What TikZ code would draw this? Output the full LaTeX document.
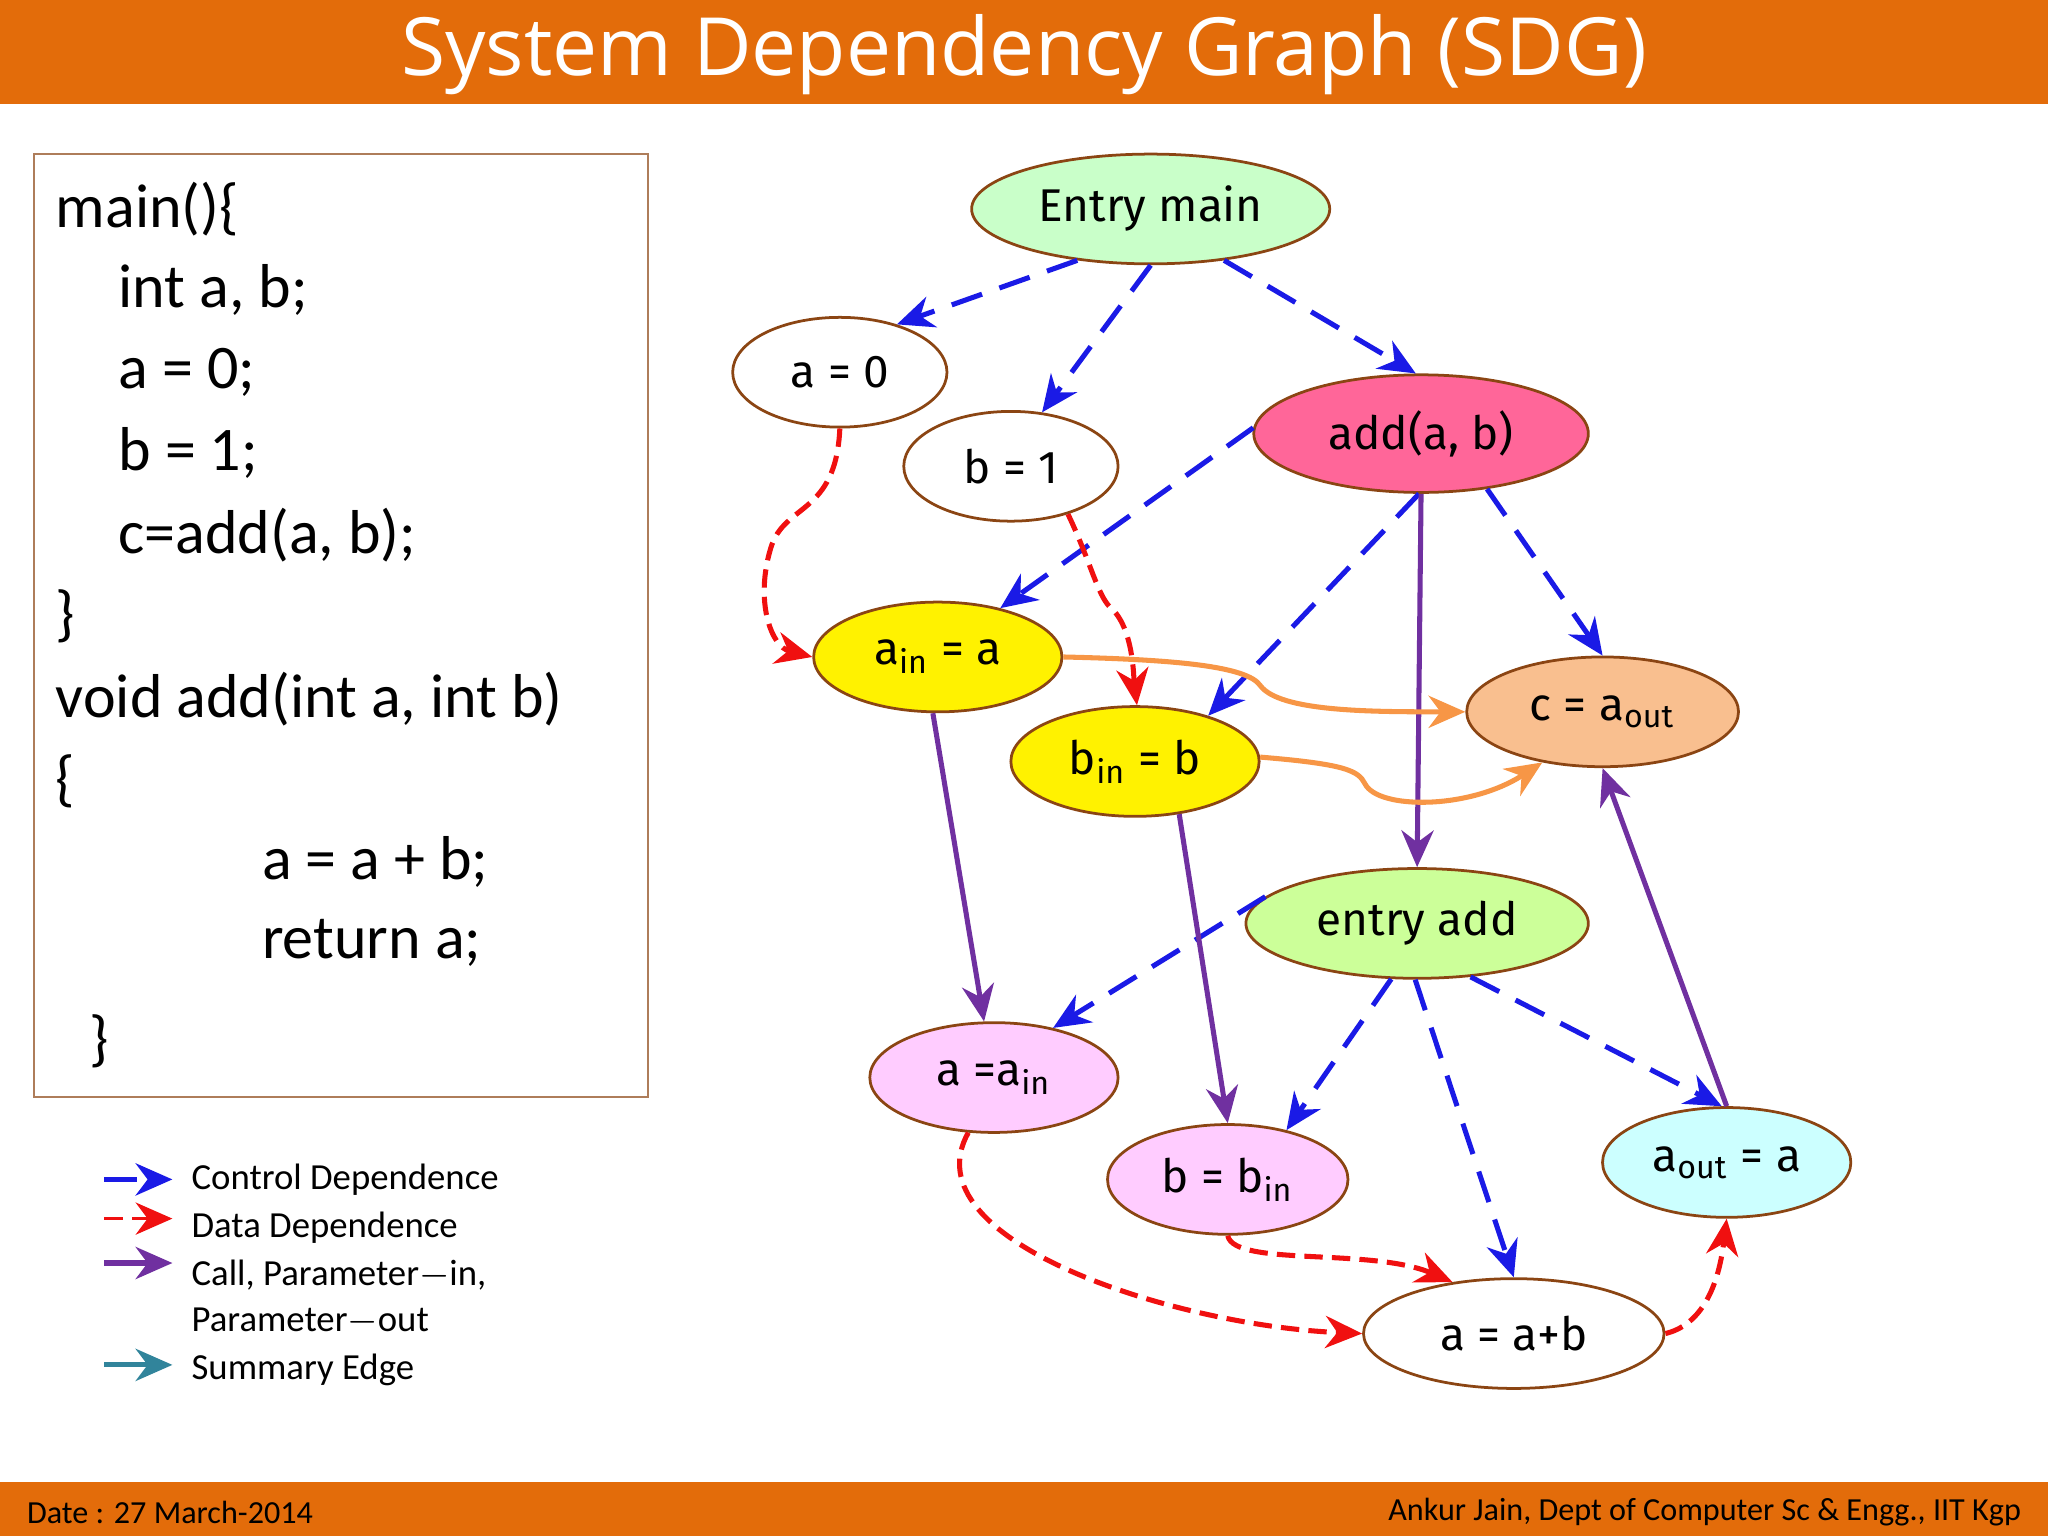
\documentclass[tikz,border=0pt]{standalone}
\usepackage{fontspec}
\setmainfont{Carlito}
\newfontfamily\titlefont{Open Sans}
\newfontfamily\nodefont{Fira Sans}
\usetikzlibrary{shapes.geometric,arrows.meta}
\definecolor{hdr}{HTML}{E36C0A}
\definecolor{brd}{HTML}{8B4513}
\definecolor{ctrl}{HTML}{1A1AE6}
\definecolor{dat}{HTML}{F01010}
\definecolor{callc}{HTML}{7030A0}
\definecolor{orng}{HTML}{F79646}
\definecolor{summ}{HTML}{31849B}
\tikzset{
  el/.style={ellipse,draw=brd,line width=0.6pt,inner sep=0pt,font=\nodefont\fontsize{10}{12}\selectfont},
  ctl/.style={draw=ctrl,line width=1.1pt,dash pattern=on 7pt off 4pt,-{Stealth[length=8pt,width=7pt]}},
  dd/.style={draw=dat,line width=1.1pt,dash pattern=on 4pt off 2pt,-{Stealth[length=8pt,width=7pt]}},
  cl/.style={draw=callc,line width=1.1pt,-{Stealth[length=8pt,width=7pt]}},
  og/.style={draw=orng,line width=1.1pt,-{Stealth[length=8pt,width=7pt]}},
  sm/.style={draw=summ,line width=1.1pt,-{Stealth[length=8pt,width=7pt]}},
  code/.style={anchor=west,inner sep=0pt,font=\fontsize{13.5}{16}\selectfont},
  leg/.style={anchor=west,inner sep=0pt,font=\fontsize{8}{10}\selectfont}
}
\begin{document}
\begin{tikzpicture}[x=0.01cm,y=-0.01cm]
\useasboundingbox (0,0) rectangle (1568,1176);
\fill[hdr] (0,0) rectangle (1568,80);
\node[text=white,font=\titlefont\fontsize{17.5}{20}\selectfont] (title) at (784,42) {System Dependency Graph (SDG)};
\fill[hdr] (0,1135) rectangle (1568,1176);
\node[anchor=west,inner sep=0pt,font=\fontsize{7}{8}\selectfont] (date) at (20,1158) {Date : 27 March-2014};
\node[anchor=east,inner sep=0pt,font=\fontsize{7}{8}\selectfont] (auth) at (1548,1158) {Ankur Jain, Dept of Computer Sc \& Engg., IIT Kgp};
% code box
\draw[brd!70,line width=0.5pt] (26,118) rectangle (496,840);
\node[code] (c1) at (42,160) {main()\{};
\node[code] (c2) at (90,222) {int a, b;};
\node[code] (c3) at (90,285) {a = 0;};
\node[code] (c4) at (90,347) {b = 1;};
\node[code] (c5) at (90,410) {c=add(a, b);};
\node[code] (c6) at (42,472) {\}};
\node[code] (c7) at (42,535) {void add(int a, int b)};
\node[code] (c8) at (42,598) {\{};
\node[code] (c9) at (200,660) {a = a + b;};
\node[code] (c10) at (200,722) {return a;};
\node[code] (c11) at (68,797) {\}};
% legend
\coordinate (l1a) at (80,903); \coordinate (l1b) at (132,903);
\coordinate (l2a) at (80,933); \coordinate (l2b) at (132,933);
\coordinate (l3a) at (80,967); \coordinate (l3b) at (132,967);
\coordinate (l4a) at (80,1045); \coordinate (l4b) at (132,1045);
\draw[ctl] (l1a) -- (l1b);
\draw[dd,line width=0.8pt] (l2a) -- (l2b);
\draw[cl] (l3a) -- (l3b);
\draw[sm] (l4a) -- (l4b);
\node[leg] (t1) at (146,903) {Control Dependence};
\node[leg] (t2) at (146,940) {Data Dependence};
\node[leg] (t3) at (146,976) {Call, Parameter{\(-\)}in,};
\node[leg] (t3b) at (146,1012) {Parameter{\(-\)}out};
\node[leg] (t4) at (146,1049) {Summary Edge};
% nodes
\node[el,fill={rgb,255:red,201;green,255;blue,201},minimum width=274\pgflinewidth*0+2.74cm,minimum height=0.84cm] (em) at (881,160) {Entry main};
\node[el,fill=white,minimum width=1.64cm,minimum height=0.84cm] (a0) at (643,285) {a = 0};
\node[el,fill=white,minimum width=1.64cm,minimum height=0.84cm] (b1) at (774,357) {b = 1};
\node[el,fill={rgb,255:red,255;green,102;blue,153},minimum width=2.56cm,minimum height=0.9cm] (add) at (1088,332) {add(a, b)};
\node[el,fill=yellow,minimum width=1.9cm,minimum height=0.84cm] (ain) at (718,503) {a\textsubscript{in} = a};
\node[el,fill=yellow,minimum width=1.9cm,minimum height=0.84cm] (bin) at (869,583) {b\textsubscript{in} = b};
\node[el,fill={rgb,255:red,249;green,191;blue,143},minimum width=2.08cm,minimum height=0.84cm] (c) at (1227,545) {c = a\textsubscript{out}};
\node[el,fill={rgb,255:red,204;green,255;blue,153},minimum width=2.62cm,minimum height=0.84cm] (ea) at (1085,707) {entry add};
\node[el,fill={rgb,255:red,255;green,204;blue,255},minimum width=1.9cm,minimum height=0.84cm] (aa) at (761,825) {a =a\textsubscript{in}};
\node[el,fill={rgb,255:red,255;green,204;blue,255},minimum width=1.84cm,minimum height=0.84cm] (bb) at (940,903) {b = b\textsubscript{in}};
\node[el,fill={rgb,255:red,204;green,255;blue,255},minimum width=1.9cm,minimum height=0.84cm] (ao) at (1322,890) {a\textsubscript{out} = a};
\node[el,fill=white,minimum width=2.3cm,minimum height=0.84cm] (ab) at (1159,1021) {a = a+b};
% control edges
\draw[ctl] (em.-145) -- (a0.40);
\draw[ctl] (em.-90) -- (b1.60);
\draw[ctl] (em.-35) -- (add.95);
\draw[ctl] (add.178) -- (ain.38);
\draw[ctl] (add.-92) -- (bin.32);
\draw[ctl] (add.-40) -- (c.90);
\draw[ctl] (ea.170) -- (aa.40);
\draw[ctl] (ea.-115) -- (bb.40);
\draw[ctl] (ea.-92) -- (ab.90);
\draw[ctl] (ea.-45) -- (ao.95);
% data edges
\draw[dd] (a0.-90) .. controls (640,395) and (600,385) .. (590,420) .. controls (578,460) and (590,495) .. (ain.180);
\draw[dd] (b1.-40) .. controls (835,430) and (840,455) .. (850,465) .. controls (868,480) and (868,520) .. (bin.88);
\draw[dd] (aa.-115) .. controls (695,950) and (900,1015) .. (ab.180);
\draw[dd] (bb.-90) .. controls (945,970) and (1050,955) .. (ab.140);
\draw[dd] (ab.0) .. controls (1300,1015) and (1315,990) .. (ao.-90);
% call edges
\draw[cl] (ain.-95) -- (aa.100);
\draw[cl] (add.-90) -- (ea.90);
\draw[cl] (bin.-50) -- (bb.90);
\draw[cl] (ao.90) -- (c.-90);
% orange edges
\draw[og] (ain.0) .. controls (900,505) and (955,510) .. (965,525) .. controls (980,545) and (1050,545) .. (c.180);
\draw[og] (bin.2) .. controls (1030,585) and (1040,590) .. (1045,600) .. controls (1055,620) and (1125,620) .. (c.-140);
\end{tikzpicture}
\end{document}
